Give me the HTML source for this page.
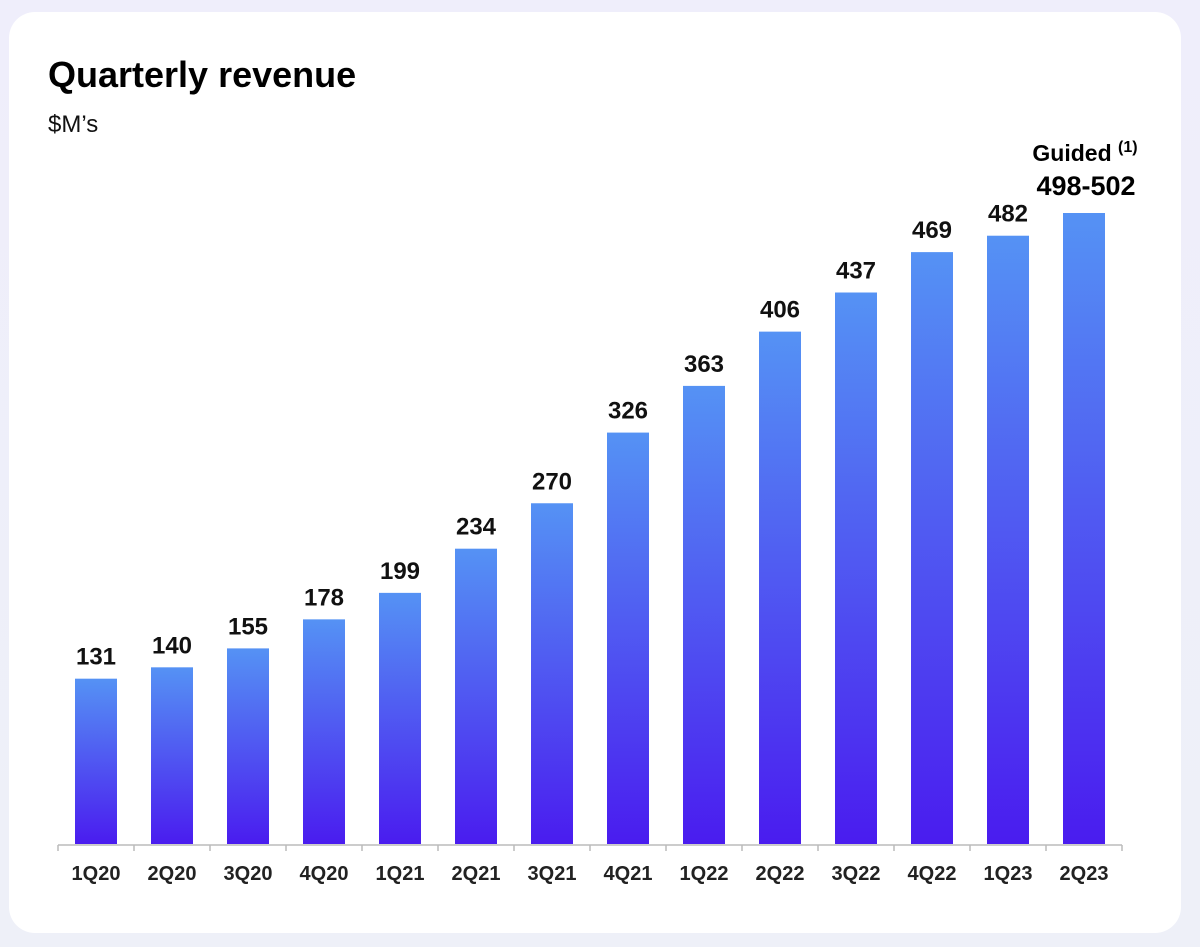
<!DOCTYPE html>
<html><head><meta charset="utf-8"><style>
body{margin:0;width:1200px;height:947px;background:linear-gradient(180deg,#efeefb,#eef0f8);font-family:"Liberation Sans",Arial,sans-serif;overflow:hidden}
#card{position:absolute;left:9px;top:12px;width:1172px;height:921px;background:#fff;border-radius:26px}
</style></head><body>
<div id="card"></div>
<svg width="1200" height="947" style="position:absolute;left:0;top:0">
<defs><linearGradient id="g" x1="0" y1="0" x2="0" y2="1"><stop offset="0" stop-color="#5592f4"/><stop offset="1" stop-color="#4a1cef"/></linearGradient></defs>
<text x="48" y="87" font-size="36" font-weight="bold" fill="#000">Quarterly revenue</text>
<text x="48" y="132" font-size="24" fill="#111">$M’s</text>
<g id="bars"></g>
<text x="1085" y="161" text-anchor="middle" font-size="23" font-weight="bold">Guided <tspan font-size="16" dy="-9">(1)</tspan></text>
<text x="1086" y="195" text-anchor="middle" font-size="27" font-weight="bold">498-502</text>
</svg>
<script>
const categories=["1Q20","2Q20","3Q20","4Q20","1Q21","2Q21","3Q21","4Q21","1Q22","2Q22","3Q22","4Q22","1Q23","2Q23"];
const values=[131,140,155,178,199,234,270,326,363,406,437,469,482,500];
const labels=["131","140","155","178","199","234","270","326","363","406","437","469","482",""];
const ns="http://www.w3.org/2000/svg",g=document.getElementById("bars");
const base=844,k=1.262,x0=58,step=76,bw=42;
const y=v=>base-v*k, x=i=>x0+i*step+step/2;
function el(t,a){const e=document.createElementNS(ns,t);for(const n in a)e.setAttribute(n,a[n]);g.appendChild(e);return e;}
categories.forEach((c,i)=>{
 const r=el("rect",{x:x(i)-bw/2,y:y(values[i]),width:bw,height:values[i]*k,fill:"url(#g)"});
 
 
 if(labels[i]){const t=el("text",{x:x(i),y:y(values[i])-14,"text-anchor":"middle","font-size":"24","font-weight":"bold",fill:"#111"});t.textContent=labels[i];
 
 }
 const l=el("text",{x:x(i),y:880,"text-anchor":"middle","font-size":"20","font-weight":"bold",fill:"#222"});l.textContent=c;
 
 
});
const ax=el("line",{x1:x0,x2:x0+14*step,y1:base+1,y2:base+1,stroke:"#bbb","stroke-width":1.5});


for(let i=0;i<=14;i++){const t=el("line",{x1:x0+i*step,x2:x0+i*step,y1:base+1,y2:base+7,stroke:"#bbb","stroke-width":1.5});

}
</script>
</body></html>
